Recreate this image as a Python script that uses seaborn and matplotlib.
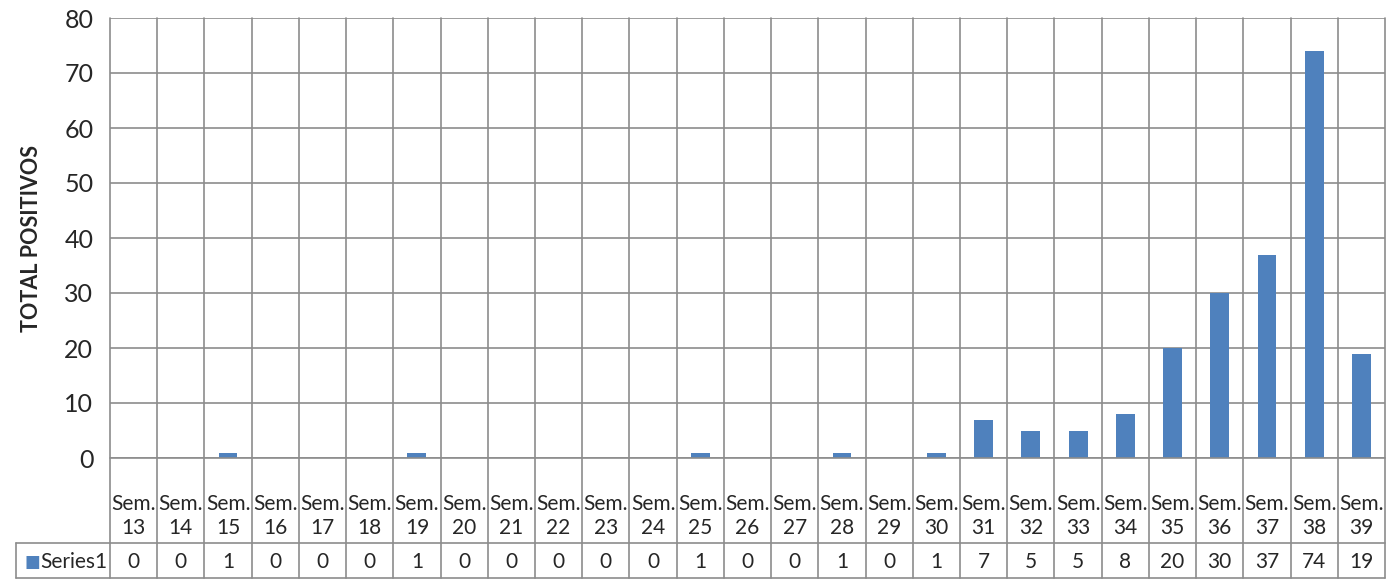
import numpy as np
import pandas as pd
import seaborn as sns
import matplotlib.pyplot as plt
import matplotlib.transforms as mtransforms

weeks = [str(w) for w in range(13, 40)]
labels = ["Sem.\n" + w for w in weeks]
values = [0, 0, 1, 0, 0, 0, 1, 0, 0, 0, 0, 0, 1, 0, 0, 1, 0, 1, 7, 5, 5, 8, 20, 30, 37, 74, 19]
series_name = "Series1"

df = pd.DataFrame({"Semana": labels, "Positivos": values})

sns.set_style("white")
plt.rcParams['font.family'] = ['Lato', 'DejaVu Sans']

bar_color = "#4F81BD"
grid_color = "#8C8C8C"

fig = plt.figure(figsize=(13.95, 5.79), dpi=100)
ax = fig.add_axes([110 / 1395, 1 - 458 / 579, 1275 / 1395, 440 / 579])

sns.barplot(data=df, x="Semana", y="Positivos", color=bar_color, width=0.4,
            saturation=1, linewidth=0, ax=ax, zorder=3)

n = len(values)
ax.set_xlim(-0.5, n - 0.5)
ax.set_ylim(0, 80)
ax.set_yticks(range(0, 81, 10))
ax.tick_params(axis="y", labelsize=18, length=0, pad=12)
ax.set_xticks([])
ax.set_xlabel("")
ax.set_ylabel("TOTAL POSITIVOS", fontsize=15.5, fontweight="bold", labelpad=16)
ax.yaxis.grid(True, color=grid_color, linewidth=1.2)
for s in ax.spines.values():
    s.set_visible(False)

trans = mtransforms.blended_transform_factory(ax.transData, ax.transAxes)
row1 = -85 / 440
row2 = -120 / 440
left_cell = -0.5 - 94 / (1275 / n)

# vertical lines at category boundaries (plot area + table)
for i in range(n + 1):
    xb = i - 0.5
    ax.plot([xb, xb], [row2, 1], color=grid_color, lw=1.2, transform=trans,
            clip_on=False, zorder=2)
# horizontal table lines
ax.plot([-0.5, n - 0.5], [0, 0], color=grid_color, lw=1.2, transform=trans,
        clip_on=False, zorder=4)
ax.plot([left_cell, n - 0.5], [row1, row1], color=grid_color, lw=1.2,
        transform=trans, clip_on=False)
ax.plot([left_cell, n - 0.5], [row2, row2], color=grid_color, lw=1.2,
        transform=trans, clip_on=False)
ax.plot([left_cell, left_cell], [row1, row2], color=grid_color, lw=1.2,
        transform=trans, clip_on=False)

# table text
for i, (lab, v) in enumerate(zip(labels, values)):
    ax.text(i, -58 / 440, lab, ha="center", va="center", fontsize=15,
            linespacing=1.3, transform=trans, clip_on=False)
    ax.text(i, -104 / 440, str(v), ha="center", va="center", fontsize=15,
            transform=trans, clip_on=False)

# legend key in table
ax.text(left_cell + 0.17, -104 / 440, "\u25A0", color=bar_color, ha="left",
        va="center", fontsize=12, family=['DejaVu Sans'], transform=trans,
        clip_on=False)
ax.text(left_cell + 0.52, -104 / 440, series_name, ha="left", va="center",
        fontsize=15, transform=trans, clip_on=False)

fig.savefig("out.png", dpi=100)
